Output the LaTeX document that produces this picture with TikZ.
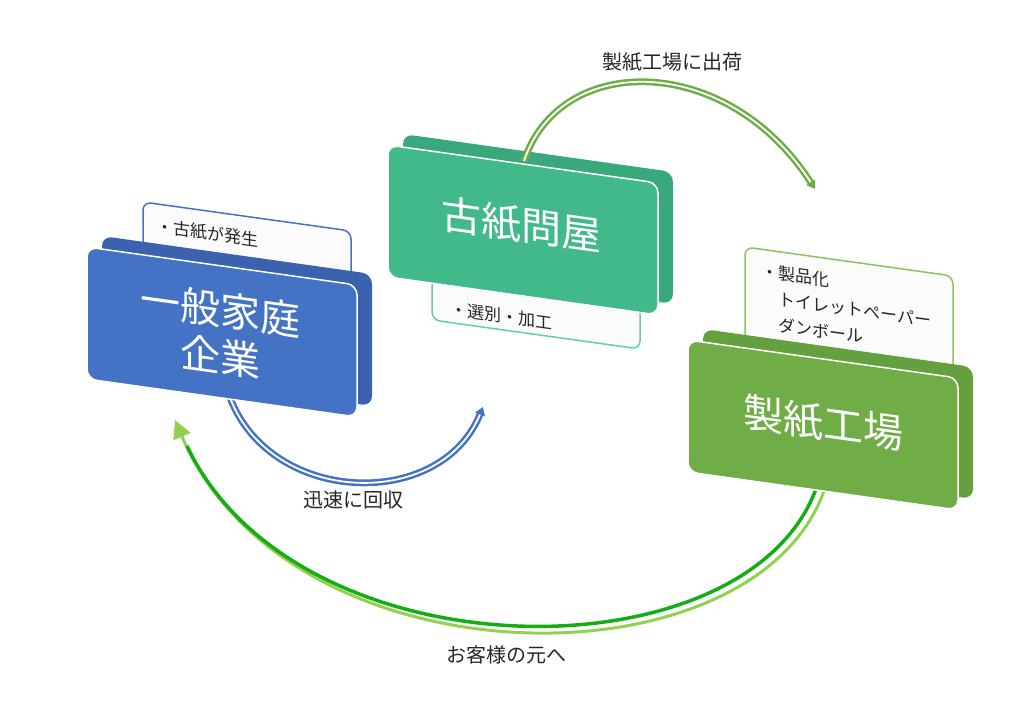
\documentclass[tikz,border=0pt]{standalone}
\usepackage{fontspec}
\setmainfont{Noto Sans CJK JP}
\usetikzlibrary{arrows.meta}
\definecolor{faceBlue}{HTML}{4472C4}
\definecolor{slabBlue}{HTML}{3A62AE}
\definecolor{faceTeal}{HTML}{42B98B}
\definecolor{slabTeal}{HTML}{3AA87D}
\definecolor{faceGreen}{HTML}{70AD47}
\definecolor{slabGreen}{HTML}{64A03E}
\definecolor{lineTeal}{HTML}{63CFA3}
\definecolor{lineGreen}{HTML}{8DC263}
\definecolor{lightGreen}{HTML}{92D050}
\definecolor{deepGreen}{HTML}{14AE14}
\definecolor{cardFill}{HTML}{FBFBFB}
% x, y, face colour, slab colour
\newcommand{\panel}[4]{%
  \fill[#4, rounded corners=10pt] (#1+15,#2-11) -- ++(270,38) -- ++(0,132) -- ++(-270,-38) -- cycle;
  \filldraw[fill=#3, draw=white, line width=1.5pt, rounded corners=10pt] (#1,#2) -- ++(270,38) -- ++(0,132) -- ++(-270,-38) -- cycle;}
% x, y, height, border colour
\newcommand{\card}[4]{%
  \filldraw[fill=cardFill, draw=#4, line width=1.5pt, rounded corners=8pt] (#1,#2) -- ++(208,29) -- ++(0,#3) -- ++(-208,-29) -- cycle;}

\begin{document}
\begin{tikzpicture}[x=1pt,y=-1pt,
  bigtxt/.style={text=white, font=\fontsize{40}{47}\selectfont, align=center, yslant=-0.14},
  cardtxt/.style={text=black!85, font=\fontsize{17}{26}\selectfont, align=left, yslant=-0.14},
  lbl/.style={text=black!85, font=\fontsize{20}{24}\selectfont},
  arc/.style={line width=2.5pt, double=white, double distance=1.8pt}]
  \useasboundingbox (0,0) rectangle (1034,703);
  % arc ends
  \coordinate (houseOut) at (228,392);
  \coordinate (dealerIn) at (483,407);
  \coordinate (dealerOut) at (524,161);
  \coordinate (millIn) at (815,189);
  \coordinate (millOut) at (826,485);
  \coordinate (millOutB) at (818,483);
  \coordinate (houseIn) at (175,420);
  \coordinate (houseInB) at (187,446);
  % return and collection arcs
  \draw[lightGreen, line width=3pt, -{Triangle[width=18pt,length=18pt]}]
    (millOut) .. controls (762,690) and (290,690) .. (houseIn);
  \draw[deepGreen, line width=3.5pt] (millOutB) .. controls (755,680) and (298,680) .. (houseInB);
  \draw[arc, draw=faceBlue, -{Triangle[width=10pt,length=8pt]}]
    (houseOut) .. controls (265,505) and (440,513) .. (dealerIn);
  % cards and panels
  \foreach \x/\y/\h/\c in {143/202/120/faceBlue, 432/220/100/lineTeal, 745/247/130/lineGreen}
    \card{\x}{\y}{\h}{\c};
  \foreach \x/\y/\f/\s in {87/247/faceBlue/slabBlue, 388/145/faceTeal/slabTeal, 688/340/faceGreen/slabGreen}
    \panel{\x}{\y}{\f}{\s};
  \draw[arc, draw=faceGreen, -{Triangle[width=10pt,length=8pt]}]
    (dealerOut) .. controls (560,52) and (727,52) .. (millIn);
  % texts
  \node[bigtxt] (house) at (220,333) {一般家庭\\企業};
  \node[bigtxt] (dealer) at (521,225) {古紙問屋};
  \node[bigtxt] (mill) at (823,423) {製紙工場};
  \node[cardtxt] (houseNote) at (207,233) {・古紙が発生};
  \node[cardtxt] (dealerNote) at (501,316) {・選別・加工};
  \node[cardtxt, anchor=west] (millNote) at (758,296) {・製品化\\　トイレットペーパー\\　ダンボール};
  \node[lbl] (shipLbl) at (672,62) {製紙工場に出荷};
  \node[lbl] (collectLbl) at (353,500) {迅速に回収};
  \node[lbl] (returnLbl) at (506,655) {お客様の元へ};
\end{tikzpicture}
\end{document}
